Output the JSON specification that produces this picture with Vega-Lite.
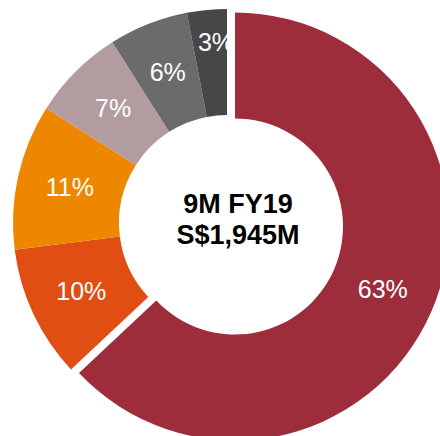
{
  "$schema": "https://vega.github.io/schema/vega-lite/v6.json",
  "width": 400,
  "height": 400,
  "autosize": {"type": "none"},
  "padding": {"left": 27, "top": 23, "right": 13, "bottom": 13},
  "background": "white",
  "view": {"stroke": null},
  "config": {"font": "Liberation Sans"},
  "data": {
    "values": [
      {"segment": "A", "pct": 63, "label": "63%", "rank": 1},
      {"segment": "B", "pct": 10, "label": "10%", "rank": 2},
      {"segment": "C", "pct": 11, "label": "11%", "rank": 3},
      {"segment": "D", "pct": 7, "label": "7%", "rank": 4},
      {"segment": "E", "pct": 6, "label": "6%", "rank": 5},
      {"segment": "F", "pct": 3, "label": "3%", "rank": 6}
    ]
  },
  "layer": [
    {
      "mark": {"type": "arc", "outerRadius": 214, "innerRadius": 108},
      "encoding": {
        "theta": {"field": "pct", "type": "quantitative", "stack": true},
        "order": {"field": "rank", "type": "quantitative"},
        "color": {
          "field": "segment",
          "type": "nominal",
          "scale": {
            "domain": ["A", "B", "C", "D", "E", "F"],
            "range": ["#9E2D3B", "#E04E14", "#EE8700", "#B29CA0", "#6B6B6B", "#474747"]
          },
          "legend": null
        },
        "opacity": {"condition": {"test": "datum.pct == 63", "value": 0}, "value": 1}
      }
    },
    {
      "mark": {"type": "arc", "outerRadius": 214, "innerRadius": 108, "xOffset": 8, "yOffset": 3.5},
      "encoding": {
        "theta": {"field": "pct", "type": "quantitative", "stack": true},
        "order": {"field": "rank", "type": "quantitative"},
        "color": {
          "field": "segment",
          "type": "nominal",
          "scale": {
            "domain": ["A", "B", "C", "D", "E", "F"],
            "range": ["#9E2D3B", "#E04E14", "#EE8700", "#B29CA0", "#6B6B6B", "#474747"]
          },
          "legend": null
        },
        "opacity": {"condition": {"test": "datum.pct == 63", "value": 1}, "value": 0}
      }
    },
    {
      "mark": {"type": "text", "fontSize": 25, "fill": "white", "align": "center", "baseline": "middle", "radius": 161},
      "encoding": {
        "theta": {"field": "pct", "type": "quantitative", "stack": true},
        "order": {"field": "rank", "type": "quantitative"},
        "text": {"field": "label", "type": "nominal"},
        "opacity": {"condition": {"test": "datum.pct == 63 || datum.pct == 3", "value": 0}, "value": 1}
      }
    },
    {
      "mark": {"type": "text", "fontSize": 25, "fill": "white", "align": "center", "baseline": "middle", "radius": 181, "dx": 6},
      "encoding": {
        "theta": {"field": "pct", "type": "quantitative", "stack": true},
        "order": {"field": "rank", "type": "quantitative"},
        "text": {"field": "label", "type": "nominal"},
        "opacity": {"condition": {"test": "datum.pct == 3", "value": 1}, "value": 0}
      }
    },
    {
      "mark": {"type": "text", "fontSize": 25, "fill": "white", "align": "center", "baseline": "middle", "radius": 161, "dx": 8, "dy": 3.5},
      "encoding": {
        "theta": {"field": "pct", "type": "quantitative", "stack": true},
        "order": {"field": "rank", "type": "quantitative"},
        "text": {"field": "label", "type": "nominal"},
        "opacity": {"condition": {"test": "datum.pct == 63", "value": 1}, "value": 0}
      }
    },
    {
      "data": {"values": [{"title": "center"}]},
      "mark": {
        "type": "text",
        "text": ["9M FY19", "S$1,945M"],
        "fontSize": 27,
        "fontWeight": "bold",
        "lineHeight": 31,
        "fill": "black",
        "align": "center",
        "baseline": "middle",
        "dx": 11,
        "dy": -18
      },
      "encoding": {}
    }
  ]
}
